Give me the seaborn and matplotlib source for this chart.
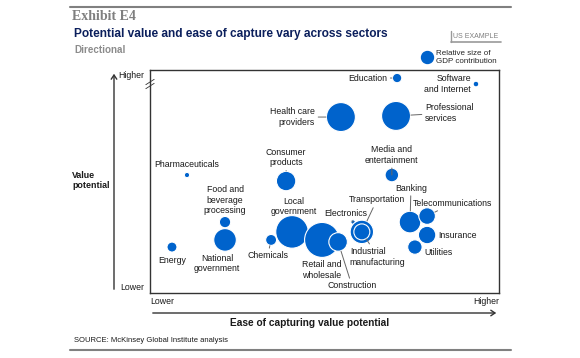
import numpy as np
import matplotlib
matplotlib.use("Agg")
import matplotlib.pyplot as plt
from matplotlib.lines import Line2D
import pandas as pd
import seaborn as sns

# sector data, x = ease of capture (0-100), y = value potential (0-100)
sectors = ["Software and Internet", "Education", "Health care providers", "Professional services",
           "Pharmaceuticals", "Consumer products", "Media and entertainment",
           "Food and beverage processing", "National government", "Energy", "Chemicals",
           "Local government", "Retail and wholesale", "Construction", "Electronics",
           "Transportation", "Industrial manufacturing", "Banking", "Telecommunications",
           "Insurance", "Utilities"]
ease = [93.4, 70.8, 54.7, 70.5, 10.6, 39.0, 69.3, 21.5, 21.5, 6.3, 34.7,
        40.7, 49.3, 53.9, 58.2, 60.7, 60.7, 74.5, 79.4, 79.4, 75.9]
value = [93.7, 96.4, 78.9, 79.4, 52.9, 50.2, 52.9, 31.8, 23.8, 20.6, 23.8,
         27.4, 23.8, 22.9, 31.8, 27.4, 27.4, 31.8, 34.5, 26.0, 20.6]
gdp = [8, 22, 210, 210, 7, 94, 46, 32, 128, 25, 30,
       266, 306, 86, 5, 137, 64, 117, 69, 76, 52]

labels = ["Software\nand Internet", "Education", "Health care\nproviders", "Professional\nservices",
          "Pharmaceuticals", "Consumer\nproducts", "Media and\nentertainment",
          "Food and\nbeverage\nprocessing", "National\ngovernment", "Energy", "Chemicals",
          "Local\ngovernment", "Retail and\nwholesale", "Construction", "Electronics",
          "Transportation", "Industrial\nmanufacturing", "Banking", "Telecommunications",
          "Insurance", "Utilities"]

# label layout: offset in points, horizontal alignment, leader line
layout = [(-3.6, 0, "right", False), (-7.2, 0, "right", True), (-18.7, 0, "right", True),
          (20.9, 2.2, "left", True), (0, 7.9, "center", False), (0, 16.9, "center", True),
          (0, 14.4, "center", True), (0, 15.8, "center", False), (-5.8, -16.9, "center", False),
          (0, -9.4, "center", False), (-2.5, -11.5, "center", True), (1.2, 18.4, "center", False),
          (0, -21.6, "center", False), (10, -31.7, "center", True), (-5.4, 6.5, "center", True),
          (10.8, 23, "center", True), (-8.6, -18, "left", True), (0.7, 24.5, "center", True),
          (-10, 9.4, "left", True), (8, -0.7, "left", False), (6.5, -3.6, "left", False)]

df = pd.DataFrame({"sector": sectors, "ease": ease, "value": value, "gdp": gdp})

blue = "#0063CC"
navy = "#0B1F5C"
sns.set_theme(style="white")
plt.rcParams["font.family"] = ["Liberation Sans", "DejaVu Sans"]

W, H = 580, 358
fig = plt.figure(figsize=(5.8, 3.58), dpi=100)
ax = fig.add_axes([150 / W, 65 / H, 349 / W, 223 / H])

k = 2.07  # area in pt^2 per gdp unit
sns.scatterplot(data=df, x="ease", y="value", size="gdp",
                sizes=(k * min(gdp), k * max(gdp)), size_norm=(min(gdp), max(gdp)),
                color=blue, edgecolor="white", linewidth=0.8, alpha=1,
                legend=False, ax=ax, zorder=3)
ax.set_xlim(0, 100)
ax.set_ylim(0, 100)
ax.set_xticks([])
ax.set_yticks([])
ax.set_xlabel("")
ax.set_ylabel("")
for sp in ax.spines.values():
    sp.set_visible(True)
    sp.set_color("#333333")
    sp.set_linewidth(1.0)

for i in range(len(sectors)):
    dx, dy, ha, lead = layout[i]
    r = np.sqrt(k * gdp[i]) / 2
    kw = {}
    if lead:
        kw["arrowprops"] = dict(arrowstyle="-", color="#666666", lw=0.7,
                                shrinkA=0, shrinkB=r + 0.3)
    ax.annotate(labels[i], xy=(ease[i], value[i]), xytext=(dx, dy),
                textcoords="offset points", ha=ha, va="center",
                multialignment=ha if ha != "center" else "center",
                fontsize=6.3, color="#1a1a1a", zorder=4, **kw)

# break mark on the left edge
yb = (293 - 82) / 223
ax.plot([-0.012, 0.012], [yb - 0.012, yb + 0.012], transform=ax.transAxes, color="#333333",
        lw=0.6, clip_on=False)
ax.plot([-0.012, 0.012], [yb - 0.03, yb - 0.006], transform=ax.transAxes, color="#333333",
        lw=0.6, clip_on=False)


def fx(px):
    return px / W


def fy(py):
    return 1 - py / H


# header and footer rules
fig.add_artist(Line2D([fx(70), fx(511)], [fy(7), fy(7)], color="#808080", lw=1.5))
fig.add_artist(Line2D([fx(70), fx(511)], [fy(350), fy(350)], color="#808080", lw=1.5))

fig.text(fx(72), fy(17), "Exhibit E4", family=["Liberation Serif", "DejaVu Serif"],
         fontsize=10, fontweight="bold", color="#7f7f7f", va="center")
fig.text(fx(74), fy(34), "Potential value and ease of capture vary across sectors",
         fontsize=8.6, fontweight="bold", color=navy, va="center")
fig.text(fx(74), fy(50), "Directional", fontsize=7.1, fontweight="bold", color="#8c8c8c", va="center")

# US EXAMPLE tag
fig.text(fx(476), fy(36.5), "US EXAMPLE", fontsize=5, color="#7f7f7f", ha="center", va="center")
fig.add_artist(Line2D([fx(451), fx(451)], [fy(31), fy(42)], color="#999999", lw=1))
fig.add_artist(Line2D([fx(451), fx(501)], [fy(42), fy(42)], color="#999999", lw=1.2))

# size legend
fig.legend(handles=[Line2D([], [], marker="o", ls="", color=blue, markersize=8.6)],
           labels=["Relative size of\nGDP contribution"], loc="center left",
           bbox_to_anchor=(fx(421), fy(57.5)), frameon=False, fontsize=5.8,
           handletextpad=0.5, borderpad=0, handlelength=1.4, borderaxespad=0)

# axis arrows
fig.add_artist(matplotlib.patches.FancyArrowPatch((fx(114), fy(292)), (fx(114), fy(71)),
               transform=fig.transFigure, arrowstyle="->,head_length=3,head_width=2",
               color="#333333", lw=1))
fig.add_artist(matplotlib.patches.FancyArrowPatch((fx(150), fy(313)), (fx(499), fy(313)),
               transform=fig.transFigure, arrowstyle="->,head_length=3,head_width=2",
               color="#333333", lw=1))

fig.text(fx(118), fy(75), "Higher", fontsize=6.3, color="#1a1a1a", va="center")
fig.text(fx(120), fy(287), "Lower", fontsize=6.3, color="#1a1a1a", va="center")
fig.text(fx(150), fy(301), "Lower", fontsize=6.3, color="#1a1a1a", va="center")
fig.text(fx(499), fy(301), "Higher", fontsize=6.3, color="#1a1a1a", va="center", ha="right")
fig.text(fx(72), fy(180.5), "Value\npotential", fontsize=6.4, fontweight="bold",
         color="#1a1a1a", va="center", ha="left")
fig.text(fx(310), fy(323), "Ease of capturing value potential", fontsize=7.3,
         fontweight="bold", color="#1a1a1a", va="center", ha="center")
fig.text(fx(74), fy(340), "SOURCE: McKinsey Global Institute analysis", fontsize=5.5,
         color="#1a1a1a", va="center")

fig.savefig("out.png", dpi=100)
